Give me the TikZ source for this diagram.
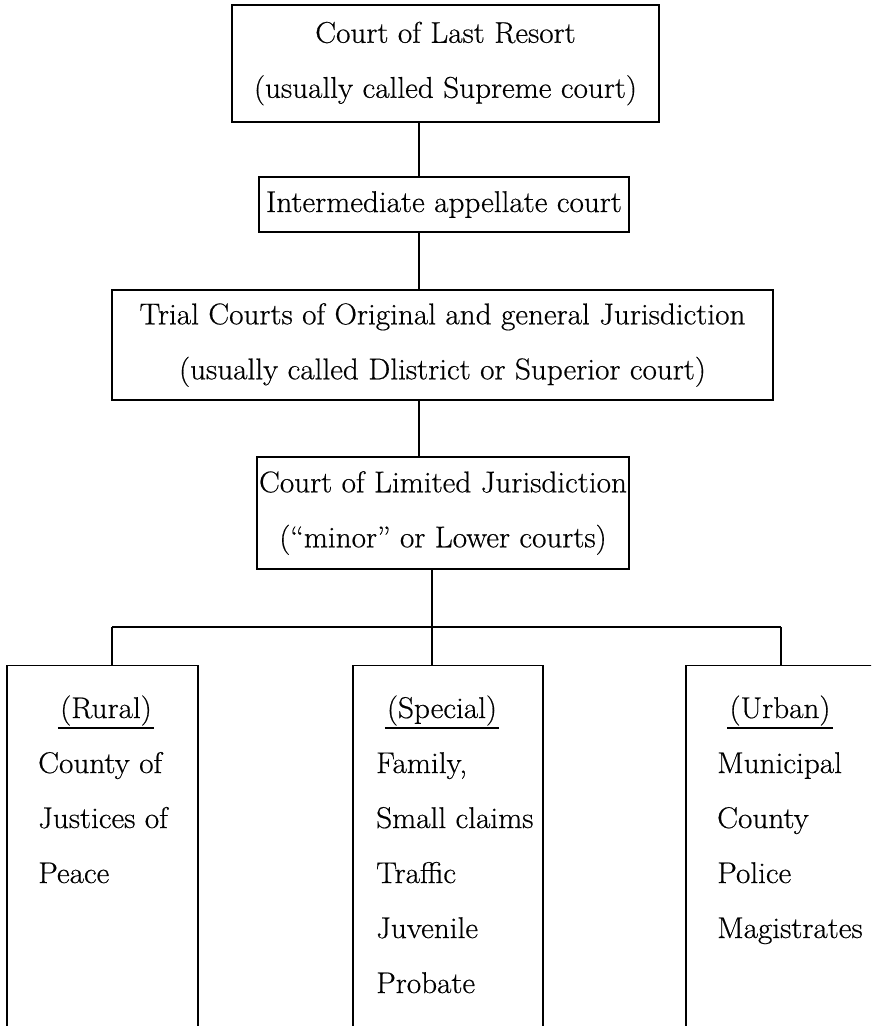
\documentclass[tikz,border=0pt]{standalone}
\usepackage{fontspec}
\setmainfont{Latin Modern Roman}[FakeStretch=1.04,FakeBold=0.5]
\usetikzlibrary{calc}
\begin{document}
\begin{tikzpicture}[x=1pt,y=-1pt,
  every node/.style={font=\fontsize{30}{55}\selectfont},
  box/.style={draw,line width=1.3pt,rectangle,inner sep=0pt,align=center},
  wire/.style={line width=1.3pt},
  head/.style={inner sep=0pt,anchor=base},
  coltxt/.style={inner sep=0pt,align=left,anchor=base west},
  ]
\useasboundingbox[fill=white] (0,0) rectangle (871,1026);
\clip (0,0) rectangle (871,1026);

% main boxes
\node[box,minimum width=427pt,minimum height=117pt] (top) at (445.5,63.5)
  {Court of Last Resort\\(usually called Supreme court)};
\node[box,minimum width=370pt,minimum height=55pt] (inter) at (444,204.5)
  {Intermediate appellate court};
\node[box,minimum width=661pt,minimum height=110pt] (trial) at (442.5,345)
  {Trial Courts of Original and general Jurisdiction\\(usually called Dlistrict or Superior court)};
\node[box,minimum width=372pt,minimum height=112pt] (limited) at (443,513)
  {Court of Limited Jurisdiction\\(“minor” or Lower courts)};

% column boxes (open at the bottom, cut by the page)
\node[box,minimum width=191pt,minimum height=400pt,anchor=north] (rural) at (102.5,665) {};
\node[box,minimum width=190pt,minimum height=400pt,anchor=north] (special) at (448,665) {};
\node[box,minimum width=214pt,minimum height=400pt,anchor=north] (urban) at (793,665) {};

% column headings
\node[head] (ruralh) at (106,718) {(Rural)};
\node[head] (specialh) at (442,718) {(Special)};
\node[head] (urbanh) at (780,718) {(Urban)};
\foreach \h in {ruralh,specialh,urbanh}
  \draw[wire] ($(\h.base west)+(-2,10)$) -- ($(\h.base east)+(2,10)$);

% column lists (base anchor = baseline of the last line)
\node[coltxt] (rurall) at (38,883) {County of\\Justices of\\Peace};
\node[coltxt] (speciall) at (376,993) {Family,\\Small claims\\Traffic\\Juvenile\\Probate};
\node[coltxt] (urbanl) at (717,938) {Municipal\\County\\Police\\Magistrates};

% connectors
\coordinate (c1) at (419,0);
\coordinate (c2) at (432,0);
\coordinate (busL) at (112,627);
\coordinate (busR) at (781,627);
\draw[wire] (top.south -| c1) -- (inter.north -| c1);
\draw[wire] (inter.south -| c1) -- (trial.north -| c1);
\draw[wire] (trial.south -| c1) -- (limited.north -| c1);
\draw[wire] (limited.south -| c2) -- (busL -| c2);
\draw[wire] (busL) -- (busR);
\draw[wire] (busL) -- (rural.north -| busL);
\draw[wire] (busL -| c2) -- (special.north -| c2);
\draw[wire] (busR) -- (urban.north -| busR);
\end{tikzpicture}
\end{document}
